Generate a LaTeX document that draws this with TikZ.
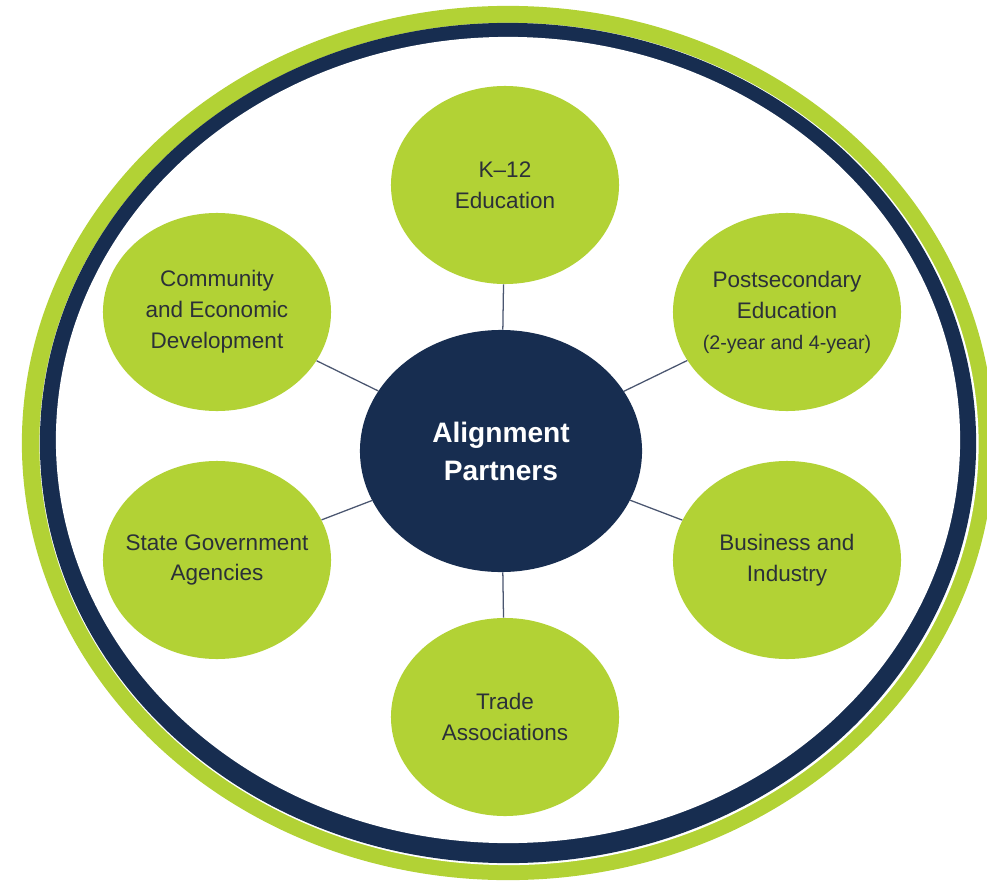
\documentclass[tikz,border=0pt]{standalone}
\usepackage{fontspec}
\setmainfont{Liberation Sans}
\usepackage{tikz}
\usetikzlibrary{shapes.geometric, positioning}
\usepackage{xcolor}

\definecolor{ringgreen}{HTML}{B2D235}
\definecolor{ringnavy}{HTML}{172D50}
\definecolor{labelgray}{HTML}{2B3038}
\definecolor{linkgray}{HTML}{4A5670}

\begin{document}
\begin{tikzpicture}[
        x=0.025cm, y=-0.025cm,
        partner/.style={ellipse, fill=ringgreen, minimum width=5.7cm, minimum height=4.95cm, inner xsep=-1cm, inner ysep=-0.5cm, align=center, text=labelgray, font=\fontsize{16}{22}\selectfont},
        hub/.style={ellipse, fill=ringnavy, minimum width=7.05cm, minimum height=6.05cm, inner sep=0pt, align=center, text=white, font=\fontsize{20}{27}\selectfont\bfseries},
        link/.style={draw=linkgray, line width=0.9pt}
    ]
        \useasboundingbox (0,0) rectangle (987,881);

        % Outer rings
        \fill[ringgreen] (508,443) ellipse [x radius=12.15cm, y radius=10.925cm];
        \fill[white] (509,444) ellipse [x radius=11.7375cm, y radius=10.525cm];
        \fill[ringnavy] (508,443) ellipse [x radius=11.7cm, y radius=10.5cm];
        \fill[white] (508,440) ellipse [x radius=11.3cm, y radius=10.075cm];

        % Hub
        \node[hub] (hub) at (501,451) {Alignment\\Partners};

        % Partners
        \node[partner] (k12) at (505,185) {K--12\\Education};
        \node[partner] (community) at (217,312) {Community\\and Economic\\Development};
        \node[partner] (postsec) at (787,312) {Postsecondary\\Education\\{\fontsize{14}{22}\selectfont (2-year and 4-year)}};
        \node[partner] (state) at (217,560) {State Government\\Agencies};
        \node[partner] (business) at (787,560) {Business and\\Industry};
        \node[partner] (trade) at (505,717) {Trade\\Associations};

        % Links
        \foreach \p in {k12, community, postsec, state, business, trade}
            \draw[link] (hub) -- (\p);

    \end{tikzpicture}
\end{document}
